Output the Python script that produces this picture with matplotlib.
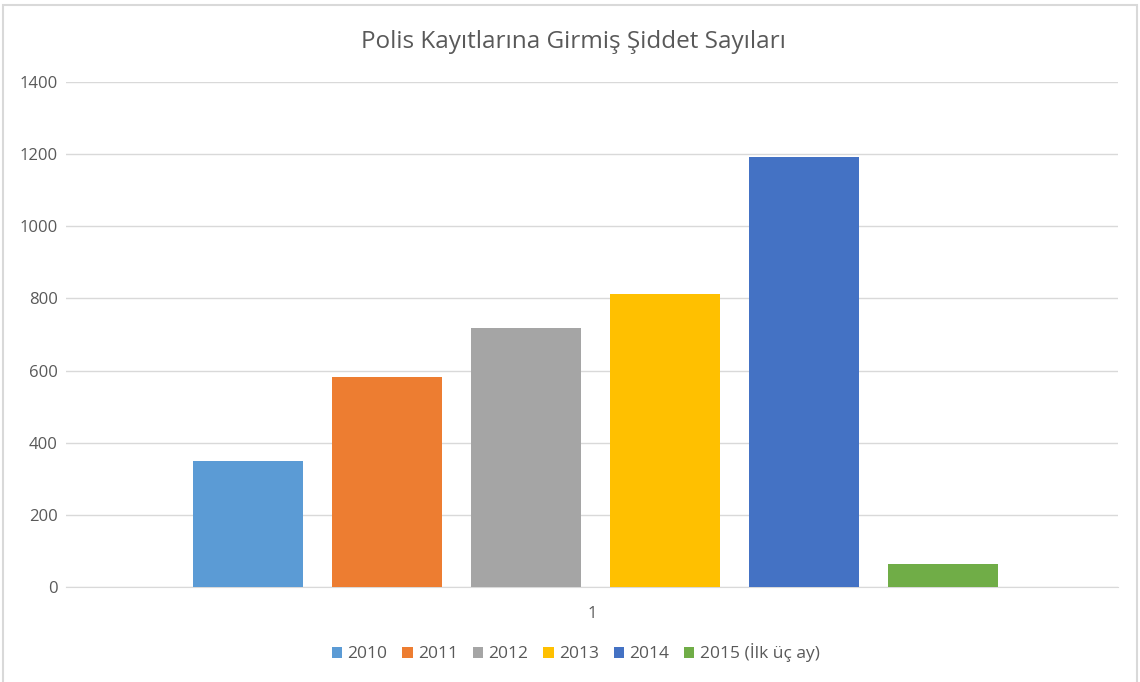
import numpy as np
import matplotlib.pyplot as plt
from matplotlib.patches import Rectangle

# veriler
years = ['2010', '2011', '2012', '2013', '2014', '2015 (İlk üç ay)']
counts = [350, 583, 718, 812, 1191, 65]
colors = ['#5B9BD5', '#ED7D31', '#A5A5A5', '#FFC000', '#4472C4', '#70AD47']
yticks = [0, 200, 400, 600, 800, 1000, 1200, 1400]

plt.rcParams['font.family'] = ['Open Sans', 'DejaVu Sans']

fig = plt.figure(figsize=(11.4, 6.82), dpi=100)
ax = fig.add_axes([66 / 1140, 95 / 682, 1052 / 1140, 505 / 682])

width = 110 / 1052
step = 139 / 1052
for i in range(len(years)):
    ax.bar((i - 2.5) * step + 0.003, counts[i], width=width, color=colors[i],
           label=years[i], zorder=3)

ax.set_xlim(-0.5, 0.5)
ax.set_ylim(0, 1400)
ax.set_yticks(yticks)
ax.set_xticks([0])
ax.set_xticklabels(['1'])
ax.grid(axis='y', color='#D9D9D9', linewidth=1, zorder=0)
for s in ['top', 'left', 'right']:
    ax.spines[s].set_visible(False)
ax.spines['bottom'].set_color('#D9D9D9')
ax.tick_params(axis='both', length=0, labelsize=12, colors='#595959')
ax.tick_params(axis='x', pad=14)
ax.tick_params(axis='y', pad=6)

fig.text(0.503, 1 - 42 / 682, 'Polis Kayıtlarına Girmiş Şiddet Sayıları',
         ha='center', va='center', fontsize=17.5, color='#595959')

leg = fig.legend(loc='center', bbox_to_anchor=(0.505, 1 - 653 / 682), ncol=6,
                 frameon=False, fontsize=12.5, handlelength=0.6, handleheight=0.6,
                 handletextpad=0.3, columnspacing=0.85)
for t in leg.get_texts():
    t.set_color('#595959')

# çerçeve
fig.patches.append(Rectangle((3 / 1140, -0.01), 1134 / 1140, 1 - 5 / 682 + 0.01,
                             transform=fig.transFigure, fill=False,
                             edgecolor='#D9D9D9', linewidth=1.5))

fig.savefig('out.png', dpi=100)
